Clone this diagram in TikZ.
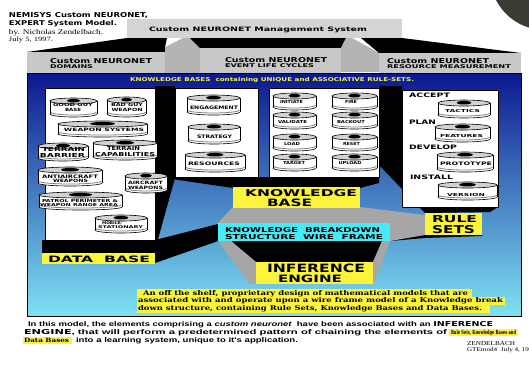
\documentclass[tikz,border=0pt]{standalone}
\usepackage{graphicx}
\usepackage{fontspec}
\setmainfont{Liberation Serif}
\setsansfont{DejaVu Sans}
\newfontfamily\arialf{Liberation Sans}
\newfontfamily\dvserif{DejaVu Serif}
\newcommand\fb[3]{\resizebox{#1pt}{#2pt}{#3}}
\definecolor{hdrgrey}{HTML}{C8C8C8}
\definecolor{topgrey}{HTML}{D4D4D4}
\definecolor{sidegrey}{HTML}{B4B4B4}
\definecolor{facegrey}{HTML}{A6A6A6}
\definecolor{kyellow}{HTML}{FCF43C}
\definecolor{kcyan}{HTML}{44ECF8}
\definecolor{navy}{HTML}{0C1890}
\definecolor{midblue}{HTML}{3D7AD8}
\definecolor{lightcyan}{HTML}{7EE2F2}
\definecolor{blobc}{HTML}{3A3C33}
% drum: cx, ytop, ybottom, width
\newcommand\drum[4]{%
  \pgfmathsetmacro\drx{#4/2}%
  \pgfmathsetmacro\dry{3}%
  \filldraw[fill=white, line width=0.6pt] ({#1},{#3-\dry}) ellipse ({\drx} and {\dry});
  \fill[white] ({#1-\drx+0.3},{#2+\dry}) rectangle ({#1+\drx-0.3},{#3-\dry});
  \begin{scope}
    \clip ({#1-\drx},{#3-\dry-2}) rectangle ({#1+\drx},{#3+1});
    \draw[gray, line width=0.8pt] ({#1},{#3-\dry-2}) ellipse ({\drx-0.4} and {\dry});
  \end{scope}
  \draw[line width=0.6pt] ({#1-\drx},{#2+\dry}) -- ({#1-\drx},{#3-\dry})
        ({#1+\drx},{#2+\dry}) -- ({#1+\drx},{#3-\dry});
  \filldraw[fill=gray!35, line width=0.6pt] ({#1},{#2+\dry}) ellipse ({\drx} and {\dry});
  \fill ({#1},{#2+\dry-0.3}) ellipse ({\drx*0.28} and {\dry*0.6});
}
% drum text: name, cx, baseline, w, h, text
\newcommand\dt[6]{\node[ctxt] (#1) at (#2,#3) {\fb{#4}{#5}{\sffamily\bfseries #6}};}
\begin{document}
\begin{tikzpicture}[x=1pt,y=-1pt,
  txt/.style={inner sep=0pt, outer sep=0pt, anchor=base west},
  ctxt/.style={inner sep=0pt, outer sep=0pt, anchor=base},
  wface/.style={fill=white, draw=black, line width=0.5pt},
  ylw/.style={fill=kyellow},
  cyn/.style={fill=kcyan}]
\useasboundingbox (0,0) rectangle (529,368);
\fill[white] (0,0) rectangle (529,368);
\begin{scope}
  \clip (0,0) rectangle (529,368);
  \fill[blobc] (545,-25) circle (55);
\end{scope}

% title
\node[txt] (t1) at (9,17) {\fb{139}{5}{\sffamily\bfseries NEMISYS Custom NEURONET,}};
\node[txt] (t2) at (9,25) {\fb{108}{5}{\sffamily\bfseries EXPERT System Model.}};
\node[txt] (t3) at (9,34) {\fb{94}{5}{by. Nicholas Zendelbach.}};
\node[txt] (t4) at (9,41.5) {\fb{44}{4.5}{July 5, 1997.}};

% top management box and legs
\fill[topgrey] (127,19) rectangle (402,38);
\node[txt] (mgmt) at (149,31) {\fb{218}{4.5}{\sffamily\bfseries Custom NEURONET Management System}};
\fill[black] (27,52) -- (127,38) -- (167,38) -- (165,47) -- (165,52) -- cycle;
\fill[sidegrey] (183,38) -- (190,38) -- (200,48) -- (200,73) -- (165,73) -- (165,47) -- cycle;
\fill[black] (190,38) -- (346,38) -- (341,48) -- (200,48) -- cycle;
\fill[sidegrey] (341,48) -- (346,38) -- (352,38) -- (379,53) -- (379,72) -- (341,72) -- cycle;
\fill[black] (361,38) -- (402,38) -- (521,53) -- (379,53) -- cycle;
\fill[hdrgrey] (27,52) rectangle (165,73);
\fill[hdrgrey] (200,48) rectangle (341,73);
\fill[hdrgrey] (379,53) rectangle (521,73);
\node[txt] (h1a) at (50,63) {\fb{102}{5}{\sffamily\bfseries Custom NEURONET}};
\node[txt] (h1b) at (50,68.5) {\fb{43}{3.8}{\sffamily\bfseries DOMAINS}};
\node[txt] (h2a) at (225,62) {\fb{102}{5}{\sffamily\bfseries Custom NEURONET}};
\node[txt] (h2b) at (225,67) {\fb{89}{3.8}{\sffamily\bfseries EVENT LIFE CYCLES}};
\node[txt] (h3a) at (387,63) {\fb{102}{5}{\sffamily\bfseries Custom NEURONET}};
\node[txt] (h3b) at (387,68.5) {\fb{124}{3.8}{\sffamily\bfseries RESOURCE MEASUREMENT}};

% main panel
\shade[top color=navy, middle color=midblue, bottom color=lightcyan] (27,73) rectangle (521,316);
\draw[line width=0.8pt] (27,73) rectangle (521,316);
\node[txt, text=kyellow] (kbs) at (130,81.5) {\fb{284}{4}{\sffamily\bfseries KNOWLEDGE BASES\ \ containing UNIQUE and ASSOCIATIVE RULE-SETS.}};

% black 3D bodies
\fill[black] (155,86) -- (175,86) -- (175,178) -- (155,250) -- cycle;
\fill[black] (42,240) rectangle (155,253);
\fill[black] (155,240) -- (218,224) -- (218,241) -- (155,263) -- cycle;
\fill[black] (172,177) -- (379,177) -- (379,183) -- (360,188) -- (233,188) -- (172,179) -- cycle;
\fill[black] (379,86) -- (402,86) -- (402,207) -- (498,207) -- (490,212) -- (425,213) -- (379,165) -- cycle;
\fill[black] (390,241) -- (425,234) -- (482,234) -- (482,236) -- (425,238) -- cycle;
\fill[black] (231,241) -- (382,241) -- (373,262) -- (256,262) -- cycle;
% grey faces
\fill[facegrey] (217,224) -- (233,207) -- (360,207) -- (425,215) -- (425,235) -- (390,241) -- (390,223) -- cycle;
\fill[facegrey] (218,241) -- (231,241) -- (256,262) -- (256,284) -- (250,284) -- cycle;
\fill[facegrey] (382,241) -- (390,241) -- (374,284) -- (373,262) -- cycle;

% white faces
\filldraw[wface] (45,88) rectangle (155,240);
\filldraw[wface] (175,88) rectangle (258,177);
\filldraw[wface] (269,88) rectangle (379,177);
\filldraw[wface] (402,90) rectangle (498,207);

% data drums
\drum{73.5}{98}{117}{47}
\dt{d1a}{73}{106.7}{40}{3.2}{GOOD GUY}
\dt{d1b}{73}{111}{16}{3.2}{BASE}
\drum{126.5}{97}{117}{39}
\dt{d2a}{127}{106.5}{32}{3.2}{BAD GUY}
\dt{d2b}{127}{111}{31}{3.2}{WEAPON}
\drum{102.5}{121}{137}{89}
\dt{d3}{104}{131}{80}{3.3}{WEAPON SYSTEMS}
\drum{63}{143}{161}{50}
\dt{d4a}{63.5}{151}{43}{4}{TERRAIN}
\dt{d4b}{62.5}{157}{45}{4}{BARRIER}
\drum{125}{140}{160}{64}
\dt{d5a}{123.5}{150.5}{33}{4}{TERRAIN}
\dt{d5b}{125}{156.5}{60}{4}{CAPABILITIES}
\drum{70}{167}{186}{64}
\dt{d6a}{70}{178}{56}{3.5}{ANTIAIRCRAFT}
\dt{d6b}{70.5}{182.5}{35}{3.3}{WEAPONS}
\drum{146}{173}{193}{42}
\dt{d7a}{145.5}{184.5}{35}{3.3}{AIRCRAFT}
\dt{d7b}{145.5}{189}{35}{3.3}{WEAPONS}
\drum{80.5}{192}{210}{83}
\dt{d8a}{80}{202}{76}{3}{PATROL PERIMETER \&}
\dt{d8b}{79}{206.5}{78}{3}{WEAPON RANGE AREA}
\drum{121}{215}{233}{52}
\dt{d9a}{112}{224.5}{20}{2.8}{MOBILE/}
\dt{d9b}{120.5}{228.5}{45}{2.8}{STATIONARY}

% event drums
\drum{213.5}{95}{115}{53}
\dt{e1}{214}{109}{48}{3.5}{ENGAGEMENT}
\drum{214}{124}{144}{52}
\dt{e2}{214.5}{138}{35}{3.5}{STRATEGY}
\drum{215}{152}{172}{60}
\dt{e3}{214}{165}{52}{3.5}{RESOURCES}
\drum{294.5}{93}{110}{43}
\dt{f1}{291.5}{103}{23}{3}{INITIATE}
\drum{354.5}{93}{110}{45}
\dt{f2}{351}{103}{12}{3}{FIRE}
\drum{294.5}{112}{129}{43}
\dt{f3}{292.5}{123}{29}{3}{VALIDATE}
\drum{354.5}{112}{129}{45}
\dt{f4}{351}{123}{28}{3}{BACKOUT}
\drum{294.5}{134}{151}{43}
\dt{f5}{292}{145}{16}{3}{LOAD}
\drum{354.5}{134}{151}{45}
\dt{f6}{351.5}{145}{17}{3}{RESET}
\drum{294.5}{154}{171}{43}
\dt{f7}{294}{164}{22}{3}{TARGET}
\drum{354.5}{154}{171}{45}
\dt{f8}{350}{164}{23}{3}{UPLOAD}

% rule panel
\node[txt] (acc) at (409,97) {\fb{41}{4.5}{\sffamily\bfseries ACCEPT}};
\node[txt] (pln) at (409,124) {\fb{27}{4.5}{\sffamily\bfseries PLAN}};
\node[txt] (dev) at (409,149.5) {\fb{48}{4.5}{\sffamily\bfseries DEVELOP}};
\node[txt] (ins) at (410,179) {\fb{43}{4.5}{\sffamily\bfseries INSTALL}};
\drum{464}{100}{118}{52}
\dt{r1}{462.5}{112}{35}{3}{TACTICS}
\drum{462.5}{124}{142}{55}
\dt{r2}{461.5}{137}{43}{3}{FEATURES}
\drum{465}{152}{172}{56}
\dt{r3}{466}{165}{52}{3.5}{PROTOTYPE}
\drum{467.5}{182}{200}{59}
\dt{r4}{466}{196}{38}{3}{VERSION}

% labels
\fill[ylw] (42,253) rectangle (155,264);
\node[txt] (db) at (48,262) {\fb{102}{6.5}{\sffamily\bfseries DATA\ \ BASE}};
\fill[ylw] (233,187) rectangle (360,208);
\node[txt] (kb1) at (245,196) {\fb{112}{7}{\sffamily\bfseries KNOWLEDGE}};
\node[txt] (kb2) at (267,206.5) {\fb{45}{7.5}{\sffamily\bfseries BASE}};
\fill[cyn] (218,223) rectangle (390,241);
\node[txt] (w1) at (225,232) {\fb{155}{5}{\sffamily\bfseries KNOWLEDGE\ \ BREAKDOWN}};
\node[txt] (w2) at (225,239) {\fb{158}{5}{\sffamily\bfseries STRUCTURE\ \ WIRE\ \ FRAME}};
\fill[ylw] (256,262) rectangle (373,284);
\node[txt] (ie1) at (267,272) {\fb{98}{8.5}{\sffamily\bfseries INFERENCE}};
\node[txt] (ie2) at (278,282) {\fb{64}{7.5}{\sffamily\bfseries ENGINE}};
\fill[ylw] (425,213) rectangle (482,235);
\node[txt] (rs1) at (432,222) {\fb{45}{7}{\sffamily\bfseries RULE}};
\node[txt] (rs2) at (432,233) {\fb{43}{8}{\sffamily\bfseries SETS}};

% caption
\fill[ylw] (137,289) rectangle (472,297);
\fill[ylw] (137,297) rectangle (505,305);
\fill[ylw] (137,305) rectangle (490,313);
\node[txt] (c1) at (143,295) {\fb{325}{5}{\dvserif\bfseries An off the shelf, proprietary design of mathematical models that are}};
\node[txt] (c2) at (138,302.7) {\fb{365}{5}{\dvserif\bfseries associated with and operate upon a wire frame model of a Knowledge break}};
\node[txt] (c3) at (138,310.7) {\fb{344}{5}{\dvserif\bfseries down structure, containing Rule Sets, Knowledge Bases and Data Bases.}};

% bottom text
\node[txt] (b1) at (28,326) {\fb{465}{5}{\arialf\bfseries In this model, the elements comprising a \itshape custom neuronet\upshape\ \ have been associated with an {\sffamily INFERENCE}}};
\node[txt] (b2) at (24,334.5) {\fb{423}{5}{\arialf\bfseries {\sffamily ENGINE}, that will perform a predetermined pattern of chaining the elements of}};
\fill[ylw] (449,329) rectangle (518,336);
\node[txt] (b2h) at (451,334.5) {\fb{65}{4.3}{\dvserif\bfseries Rule Sets, Knowledge Bases and}};
\fill[ylw] (23,337) rectangle (72,344);
\node[txt] (b3h) at (24,342.5) {\fb{45}{4.3}{\dvserif\bfseries Data Bases}};
\node[txt] (b3) at (76,342.5) {\fb{222}{5}{\arialf\bfseries into a learning system, unique to it's application.}};

% signature
\node[txt] (s1) at (467,345.7) {\fb{48}{4}{ZENDELBACH}};
\node[txt] (s2) at (467,351) {\fb{62}{4}{GTEmod4\ \ July 4, 19}};
\end{tikzpicture}
\end{document}
